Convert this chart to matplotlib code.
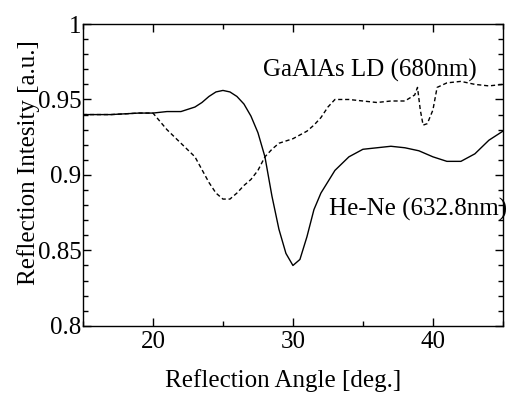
import numpy as np
import matplotlib.pyplot as plt
from matplotlib.ticker import MultipleLocator

plt.rcParams['font.family'] = ['Liberation Serif', 'DejaVu Serif']

# He-Ne (632.8nm), solid line
hene_angle = [15, 17, 19, 20, 21, 22, 23, 23.5, 24, 24.5, 25, 25.5, 26, 26.5, 27, 27.5,
              28, 28.5, 29, 29.5, 30, 30.5, 31, 31.5, 32, 33, 34, 35, 36, 37, 38, 39,
              40, 41, 42, 43, 44, 45]
hene_refl = [0.940, 0.940, 0.941, 0.941, 0.942, 0.942, 0.945, 0.948, 0.952, 0.955, 0.956,
             0.955, 0.952, 0.947, 0.939, 0.928, 0.912, 0.886, 0.864, 0.848, 0.840, 0.844,
             0.859, 0.877, 0.888, 0.903, 0.912, 0.917, 0.918, 0.919, 0.918, 0.916, 0.912,
             0.909, 0.909, 0.914, 0.923, 0.929]

# GaAlAs LD (680nm), dashed line
ld_angle = [15, 17, 19, 20, 21, 22, 23, 24, 24.5, 25, 25.5, 26, 26.5, 27, 27.5, 28, 28.5,
            29, 30, 31, 31.5, 32, 32.5, 33, 34, 35, 36, 37, 38, 38.7, 38.9, 39.1, 39.3,
            39.6, 40, 40.3, 41, 42, 43, 44, 45]
ld_refl = [0.940, 0.940, 0.941, 0.941, 0.930, 0.921, 0.912, 0.895, 0.888, 0.884, 0.884,
           0.888, 0.893, 0.897, 0.903, 0.912, 0.917, 0.921, 0.924, 0.929, 0.933, 0.938,
           0.945, 0.950, 0.950, 0.949, 0.948, 0.949, 0.949, 0.953, 0.958, 0.943, 0.933,
           0.934, 0.943, 0.958, 0.961, 0.962, 0.960, 0.959, 0.960]

fig = plt.figure(figsize=(5.09, 3.94), dpi=100)
ax = fig.add_axes([0.163, 0.173, 0.825, 0.766])

ax.plot(hene_angle, hene_refl, color='black', lw=1.0, ls='-')
ax.plot(ld_angle, ld_refl, color='black', lw=1.0, ls=(0, (3, 2)))

ax.set_xlim(15, 45)
ax.set_ylim(0.8, 1.0)
ax.xaxis.set_major_locator(MultipleLocator(10))
ax.xaxis.set_minor_locator(MultipleLocator(5))
ax.yaxis.set_minor_locator(MultipleLocator(0.01))
ax.set_yticks([0.8, 0.85, 0.9, 0.95, 1.0])
ax.set_yticklabels(['0.8', '0.85', '0.9', '0.95', '1'])
ax.tick_params(which='both', direction='in', top=True, right=True, labelsize=18)
ax.tick_params(which='major', length=6, width=1)
ax.tick_params(which='minor', length=3.5, width=1)
ax.tick_params(axis='x', pad=4)
ax.tick_params(axis='y', pad=1)
for s in ax.spines.values():
    s.set_linewidth(1)

ax.set_xlabel('Reflection Angle [deg.]', fontsize=18)
ax.set_ylabel('Reflection Intesity [a.u.]', fontsize=18)
ax.xaxis.set_label_coords(0.477, -0.182)
ax.yaxis.set_label_coords(-0.129, 0.54)
ax.xaxis.label.set_va('center')
ax.yaxis.label.set_va('center')

ax.text(27.85, 0.9695, 'GaAlAs LD (680nm)', fontsize=18, va='center', ha='left')
ax.text(32.6, 0.877, 'He-Ne (632.8nm)', fontsize=18, va='center', ha='left', clip_on=False)

fig.savefig('out.png', dpi=100)
